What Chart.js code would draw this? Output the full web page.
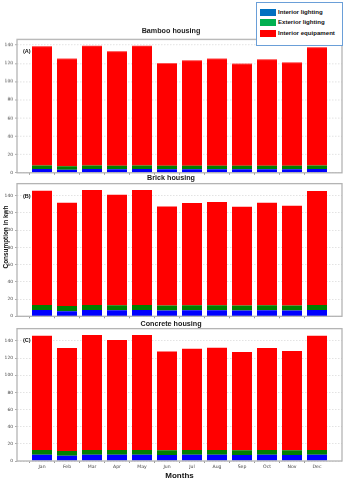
<!DOCTYPE html>
<html>
<head>
<meta charset="utf-8">
<script src="https://cdn.jsdelivr.net/npm/chart.js@4"></script>
<style>
  body { margin: 0; background: #fff; }
  #wrap { position: relative; width: 347px; height: 480px; overflow: hidden; background: #fff; font-family: "Liberation Sans", Arial, sans-serif; }
  .panel { position: absolute; left: 0; width: 347px; }
  .tag { position: absolute; left: 23px; font: bold 5.5px "Liberation Sans", sans-serif; color: #111; }
  #ylab { position: absolute; left: 4.5px; top: 237px; transform: translate(-50%, -50%) rotate(-90deg); white-space: nowrap; font: bold 6.4px "Liberation Sans", sans-serif; color: #111; }
  #legend { position: absolute; left: 256px; top: 2px; width: 85px; height: 42px; border: 1px solid #6a9fd8; background: #fff; z-index: 5; }
  .item { position: absolute; left: 3px; height: 8px; font: bold 6.1px "Liberation Sans", sans-serif; color: #111; line-height: 8px; white-space: nowrap; }
  .item span { display: inline-block; width: 16px; height: 7px; vertical-align: middle; margin-right: 2px; }
</style>
</head>
<body>
<div id="wrap">
  <div class="panel" id="pA" style="top:24.2px;height:153.8px"><canvas id="cA"></canvas></div>
  <div class="panel" id="pB" style="top:170.7px;height:151.3px"><canvas id="cB"></canvas></div>
  <div class="panel" id="pC" style="top:316.7px;height:163.3px"><canvas id="cC"></canvas></div>
  <div class="tag" style="top:48px">(A)</div>
  <div class="tag" style="top:193px">(B)</div>
  <div class="tag" style="top:337px">(C)</div>
  <div id="ylab">Consumption in kwh</div>
  <div id="legend">
    <div class="item" style="top:5px"><span style="background:#0070c0"></span>Interior lighting</div>
    <div class="item" style="top:15px"><span style="background:#00b050"></span>Exterior lighting</div>
    <div class="item" style="top:26px"><span style="background:#ff0000"></span>Interior equipament</div>
  </div>
</div>
<script>
const months = ['Jan','Feb','Mar','Apr','May','Jun','Jul','Aug','Sep','Oct','Nov','Dec'];
const seriesNames = ['Interior lighting', 'Exterior lighting', 'Interior equipament'];

// (A) bamboo
const bambooIntLight = [4.2,3.5,4.2,4.0,4.2,3.9,4.0,4.0,3.9,4.0,3.9,4.2];
const bambooExtLight = [3.8,3.7,3.8,3.8,3.8,3.8,3.8,3.8,3.8,3.8,3.8,3.8];
const bambooEquip    = [130.5,117.8,131.2,125.2,131.2,112.5,115.2,117.2,111.7,116.4,113.1,129.5];
// (B) brick
const brickIntLight  = [7.2,6.0,7.2,7.0,7.2,6.8,7.0,7.0,6.8,7.0,6.8,7.2];
const brickExtLight  = [5.8,5.9,5.8,5.8,5.8,5.8,5.8,5.8,5.8,5.8,5.8,5.8];
const brickEquip     = [132.8,119.9,133.6,128.4,133.6,114.9,118.7,119.9,114.6,119.0,115.7,132.5];
// (C) concrete
const concIntLight   = [7.4,6.2,7.4,7.2,7.4,7.0,7.2,7.2,7.0,7.2,7.0,7.4];
const concExtLight   = [5.5,5.6,5.5,5.5,5.5,5.5,5.5,5.5,5.5,5.5,5.5,5.5];
const concEquip      = [133.3,120.1,134.1,128.5,134.1,115.1,118.3,119.5,114.7,119.2,115.9,133.3];

const barColors = ['#0000ff', '#008000', '#ff0000'];

// matplotlib-like frame around the plot area
const frame = {
  id: 'frame',
  afterDatasetsDraw(chart) {
    const a = chart.chartArea, ctx = chart.ctx;
    ctx.save();
    ctx.strokeStyle = '#b4b4b4';
    ctx.lineWidth = 1.3;
    ctx.strokeRect(a.left, a.top, a.right - a.left, a.bottom - a.top);
    ctx.restore();
  }
};

function pad(arr) { return [null, ...arr, null]; }

function makeChart(id, title, series, yMax, titlePadBottom, showMonths) {
  const labels = ['', ...months, ''];
  new Chart(document.getElementById(id), {
    type: 'bar',
    data: {
      labels: labels,
      datasets: series.map((s, i) => ({
        label: seriesNames[i],
        data: pad(s),
        backgroundColor: barColors[i],
        borderWidth: 0,
        categoryPercentage: 1,
        barPercentage: 0.8
      }))
    },
    options: {
      responsive: true,
      maintainAspectRatio: false,
      animation: false,
      layout: { padding: { left: 0, right: 5, top: 0, bottom: 0 } },
      plugins: {
        legend: { display: false },
        tooltip: { enabled: false },
        title: {
          display: true,
          text: title,
          color: '#1a1a1a',
          font: { family: 'Liberation Sans', weight: 'bold', size: 7.2, lineHeight: 1.2 },
          padding: { top: 3, bottom: titlePadBottom }
        }
      },
      scales: {
        x: {
          stacked: true,
          offset: false,
          grid: {
            drawOnChartArea: false,
            drawTicks: true,
            tickLength: 2,
            tickColor: c => (c.index === 0 || c.index === 13) ? 'rgba(0,0,0,0)' : '#999'
          },
          border: { display: false },
          ticks: {
            display: showMonths,
            autoSkip: false,
            maxRotation: 0,
            padding: 1,
            color: '#444',
            font: { family: 'DejaVu Sans', size: 4.6 }
          },
          title: {
            display: showMonths,
            text: 'Months',
            color: '#111',
            font: { family: 'Liberation Sans', weight: 'bold', size: 8 },
            padding: { top: 0, bottom: 0 }
          },
          afterFit: s => { s.height = showMonths ? 19.3 : 6; }
        },
        y: {
          stacked: true,
          min: 0,
          max: yMax,
          grid: {
            color: '#dcdcdc',
            lineWidth: 0.8,
            tickLength: 2,
            tickColor: '#999'
          },
          border: { display: false, dash: [1.5, 1.5] },
          ticks: {
            stepSize: 20,
            padding: 2,
            color: '#444',
            font: { family: 'DejaVu Sans', size: 4.4 }
          },
          afterBuildTicks: s => { s.ticks = s.ticks.filter(t => t.value % 20 === 0); },
          afterFit: s => { s.width = 17; }
        }
      }
    },
    plugins: [frame]
  });
}

makeChart('cA', 'Bamboo housing', [bambooIntLight, bambooExtLight, bambooEquip], 146.2, 3.7, false);
makeChart('cB', 'Brick housing', [brickIntLight, brickExtLight, brickEquip], 154, 1.0, false);
makeChart('cC', 'Concrete housing', [concIntLight, concExtLight, concEquip], 154.4, 0, true);
</script>
</body>
</html>
